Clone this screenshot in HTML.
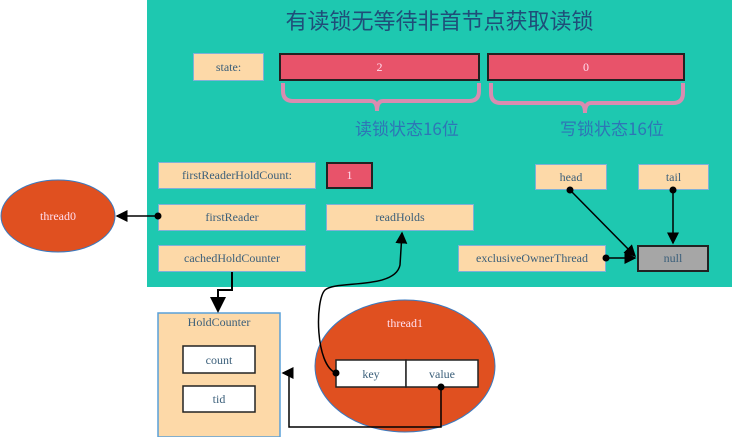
<!DOCTYPE html>
<html><head><meta charset="utf-8"><style>
body{margin:0;width:732px;height:437px;background:#fff;position:relative;overflow:hidden;font-family:"Liberation Serif","Noto Serif CJK SC",serif}
.b{position:absolute;box-sizing:border-box;display:flex;align-items:center;justify-content:center;font-size:12px;color:#3b5f7a}
.y{background:#fdd9a8;border:1px solid #7fb0d8}
.r{background:#e8536a;border:2px solid #222;color:#fde}
.w{background:#fff;border:1.5px solid #222}
</style></head><body>
<div style="position:absolute;left:147px;top:0;width:585px;height:287px;background:#1ec8b0"></div>
<div style="position:absolute;left:147px;width:585px;top:4px;text-align:center;font-size:22px;color:#1f4e79;font-family:'Noto Sans CJK SC',sans-serif">有读锁无等待非首节点获取读锁</div>
<div class="b y" style="left:193px;top:53px;width:71px;height:28px">state:</div>
<div class="b r" style="left:279px;top:53px;width:201px;height:28px">2</div>
<div class="b r" style="left:487px;top:53px;width:198px;height:28px">0</div>
<div style="position:absolute;left:355px;top:115px;font-size:17px;color:#2e75b6;font-family:'Noto Sans CJK SC',sans-serif">读锁状态16位</div>
<div style="position:absolute;left:560px;top:115px;font-size:17px;color:#2e75b6;font-family:'Noto Sans CJK SC',sans-serif">写锁状态16位</div>
<div class="b y" style="left:158px;top:162px;width:158px;height:27px">firstReaderHoldCount:</div>
<div class="b r" style="left:326px;top:162px;width:47px;height:27px">1</div>
<div class="b y" style="left:535px;top:164px;width:72px;height:26px">head</div>
<div class="b y" style="left:638px;top:164px;width:71px;height:26px">tail</div>
<div class="b y" style="left:158px;top:204px;width:148px;height:27px">firstReader</div>
<div class="b y" style="left:326px;top:204px;width:148px;height:27px">readHolds</div>
<div class="b y" style="left:158px;top:245px;width:148px;height:27px">cachedHoldCounter</div>
<div class="b y" style="left:458px;top:245px;width:148px;height:27px">exclusiveOwnerThread</div>
<div class="b" style="left:637px;top:245px;width:72px;height:27px;background:#a6a6a6;border:2px solid #222">null</div>
<svg width="732" height="437" style="position:absolute;left:0;top:0">
<defs><marker id="a" markerWidth="8" markerHeight="8" refX="7" refY="4" orient="auto"><path d="M0,0L8,4L0,8z" fill="#000"/></marker></defs>
<g fill="none" stroke="#d98cb0" stroke-width="4">
<path d="M283,83v8q0,10 10,10h78q6,0 6,10q0-10 6-10h86q10,0 10-10v-8"/>
<path d="M491,83v10q0,10 10,10h78q6,0 6,10q0-10 6-10h82q10,0 10-10v-10"/>
</g>
<ellipse cx="58" cy="216" rx="57" ry="36" fill="#e05020" stroke="#3a7ac0"/>
<text x="58" y="220" text-anchor="middle" font-size="12" fill="#fde" font-family="Liberation Serif">thread0</text>
<rect x="158" y="313" width="122" height="124" fill="#fdd9a8" stroke="#5aa0d8" stroke-width="1.5"/>
<text x="219" y="326" text-anchor="middle" font-size="12" fill="#3b5f7a" font-family="Liberation Serif">HoldCounter</text>
<rect x="183" y="346" width="72" height="27" fill="#fff" stroke="#222" stroke-width="1.5"/>
<text x="219" y="364" text-anchor="middle" font-size="12" fill="#3b5f7a">count</text>
<rect x="183" y="386" width="72" height="26" fill="#fff" stroke="#222" stroke-width="1.5"/>
<text x="219" y="403" text-anchor="middle" font-size="12" fill="#3b5f7a">tid</text>
<ellipse cx="405" cy="366" rx="90" ry="66" fill="#e05020" stroke="#3a7ac0"/>
<text x="405" y="327" text-anchor="middle" font-size="12" fill="#fde">thread1</text>
<rect x="336" y="360" width="70" height="27" fill="#fff" stroke="#222" stroke-width="1.5"/>
<rect x="406" y="360" width="72" height="27" fill="#fff" stroke="#222" stroke-width="1.5"/>
<text x="371" y="378" text-anchor="middle" font-size="12" fill="#3b5f7a">key</text>
<text x="442" y="378" text-anchor="middle" font-size="12" fill="#3b5f7a">value</text>
<g stroke="#000" stroke-width="1.5" fill="none">
<path d="M158,216H117" marker-end="url(#a)"/>
<path d="M232,272V290H218V311" marker-end="url(#a)" stroke-width="2"/>
<path d="M336,373C315,365 315,300 325,290C335,280 395,290 400,265L402,233" marker-end="url(#a)"/>
<path d="M441,387V427H289V373H283" marker-end="url(#a)"/>
<path d="M570,190L635,256" marker-end="url(#a)"/>
<path d="M673,190V243" marker-end="url(#a)"/>
<path d="M606,258H635" marker-end="url(#a)"/>
</g>
<g fill="#000"><circle cx="158" cy="216" r="3.5"/><circle cx="336" cy="373" r="3.5"/><circle cx="441" cy="387" r="3.5"/><circle cx="570" cy="190" r="3.5"/><circle cx="673" cy="190" r="3.5"/><circle cx="606" cy="258" r="3.5"/></g>
</svg>
</body></html>
